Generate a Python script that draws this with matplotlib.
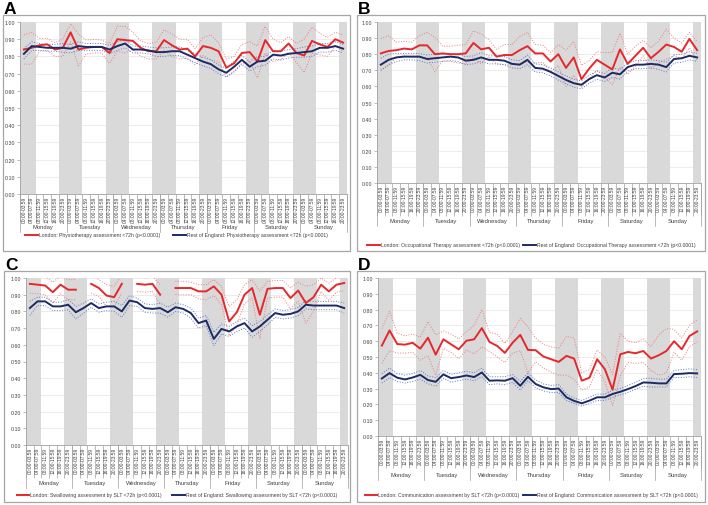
# Stroke therapy assessment <72h by admission time: London vs rest of England

import matplotlib.pyplot as plt
import numpy as np
from matplotlib.patches import Rectangle
from matplotlib.lines import Line2D
import matplotlib.transforms as mtransforms

plt.rcParams['font.family'] = ['Liberation Sans', 'DejaVu Sans']

days = ['Monday', 'Tuesday', 'Wednesday', 'Thursday', 'Friday', 'Saturday', 'Sunday']
slots = ['00:00-03:59', '04:00-07:59', '08:00-11:59', '12:00-15:59', '16:00-19:59', '20:00-23:59']
night_slots = ['20:00-23:59', '00:00-03:59', '04:00-07:59']

# A: physiotherapy
red_A = [0.84, 0.85, 0.865, 0.87, 0.84, 0.85, 0.94, 0.84, 0.85, 0.855, 0.855, 0.82, 0.90, 0.895,
         0.89, 0.85, 0.83, 0.83, 0.895, 0.865, 0.84, 0.845, 0.80, 0.86, 0.85, 0.83, 0.735, 0.76,
         0.82, 0.825, 0.77, 0.895, 0.83, 0.83, 0.875, 0.82, 0.805, 0.89, 0.87, 0.855, 0.90, 0.88]
red_A_hi = [0.925, 0.94, 0.905, 0.905, 0.88, 0.90, 0.99, 0.93, 0.895, 0.90, 0.895, 0.875, 0.975, 0.975,
            0.94, 0.89, 0.875, 0.88, 0.955, 0.93, 0.90, 0.90, 0.845, 0.91, 0.925, 0.88, 0.785, 0.80,
            0.87, 0.885, 0.86, 0.975, 0.90, 0.88, 0.915, 0.875, 0.90, 0.97, 0.935, 0.91, 0.94, 0.925]
red_A_lo = [0.755, 0.755, 0.83, 0.835, 0.80, 0.80, 0.885, 0.745, 0.815, 0.82, 0.82, 0.76, 0.83, 0.82,
            0.84, 0.80, 0.785, 0.785, 0.835, 0.80, 0.785, 0.79, 0.75, 0.805, 0.78, 0.77, 0.68, 0.715,
            0.76, 0.77, 0.675, 0.82, 0.77, 0.78, 0.825, 0.765, 0.705, 0.82, 0.81, 0.80, 0.86, 0.83]
navy_A = [0.815, 0.86, 0.855, 0.85, 0.85, 0.85, 0.845, 0.86, 0.855, 0.855, 0.855, 0.84, 0.86, 0.875,
          0.84, 0.84, 0.835, 0.825, 0.825, 0.83, 0.83, 0.81, 0.79, 0.77, 0.755, 0.725, 0.705, 0.74,
          0.78, 0.74, 0.77, 0.775, 0.81, 0.805, 0.815, 0.82, 0.825, 0.83, 0.85, 0.85, 0.86, 0.845]
navy_A_hi = [0.845, 0.885, 0.875, 0.87, 0.87, 0.875, 0.87, 0.885, 0.875, 0.875, 0.875, 0.865, 0.885, 0.90,
             0.86, 0.86, 0.855, 0.85, 0.85, 0.855, 0.855, 0.835, 0.815, 0.795, 0.78, 0.75, 0.73, 0.77,
             0.805, 0.77, 0.80, 0.80, 0.835, 0.83, 0.84, 0.845, 0.855, 0.86, 0.875, 0.875, 0.885, 0.87]
navy_A_lo = [0.785, 0.835, 0.835, 0.83, 0.83, 0.825, 0.82, 0.835, 0.835, 0.835, 0.835, 0.815, 0.835, 0.85,
             0.82, 0.82, 0.815, 0.80, 0.80, 0.805, 0.805, 0.785, 0.765, 0.745, 0.73, 0.70, 0.68, 0.71,
             0.755, 0.715, 0.74, 0.75, 0.785, 0.78, 0.79, 0.795, 0.795, 0.80, 0.825, 0.825, 0.835, 0.82]

# B: occupational therapy
red_B = [0.805, 0.82, 0.825, 0.835, 0.83, 0.855, 0.855, 0.80, 0.805, 0.80, 0.80, 0.805, 0.87, 0.83,
         0.84, 0.785, 0.795, 0.795, 0.825, 0.85, 0.805, 0.805, 0.755, 0.80, 0.715, 0.78, 0.645, 0.71,
         0.765, 0.735, 0.705, 0.83, 0.74, 0.79, 0.84, 0.775, 0.815, 0.86, 0.845, 0.815, 0.895, 0.825]
red_B_hi = [0.895, 0.915, 0.875, 0.88, 0.875, 0.915, 0.935, 0.905, 0.85, 0.85, 0.855, 0.86, 0.945, 0.925,
            0.89, 0.83, 0.86, 0.86, 0.91, 0.935, 0.86, 0.855, 0.81, 0.86, 0.825, 0.88, 0.73, 0.76,
            0.815, 0.81, 0.81, 0.93, 0.80, 0.85, 0.885, 0.84, 0.88, 0.955, 0.90, 0.87, 0.935, 0.88]
red_B_lo = [0.70, 0.73, 0.78, 0.79, 0.78, 0.78, 0.78, 0.69, 0.76, 0.755, 0.745, 0.74, 0.78, 0.74,
            0.785, 0.74, 0.735, 0.735, 0.74, 0.75, 0.745, 0.75, 0.69, 0.73, 0.60, 0.67, 0.595, 0.65,
            0.70, 0.66, 0.61, 0.72, 0.675, 0.725, 0.79, 0.71, 0.745, 0.77, 0.79, 0.77, 0.84, 0.76]
navy_B = [0.735, 0.765, 0.78, 0.785, 0.785, 0.785, 0.77, 0.775, 0.78, 0.785, 0.78, 0.76, 0.765, 0.78,
          0.765, 0.765, 0.76, 0.74, 0.735, 0.765, 0.715, 0.71, 0.69, 0.665, 0.64, 0.62, 0.61, 0.645,
          0.67, 0.655, 0.685, 0.675, 0.72, 0.735, 0.735, 0.74, 0.735, 0.72, 0.77, 0.775, 0.79, 0.78]
navy_B_hi = [0.775, 0.80, 0.805, 0.805, 0.805, 0.805, 0.795, 0.80, 0.80, 0.805, 0.80, 0.785, 0.79, 0.81,
             0.79, 0.79, 0.785, 0.765, 0.76, 0.795, 0.74, 0.735, 0.715, 0.69, 0.665, 0.645, 0.635, 0.67,
             0.695, 0.68, 0.715, 0.705, 0.745, 0.76, 0.76, 0.765, 0.76, 0.75, 0.795, 0.80, 0.815, 0.805]
navy_B_lo = [0.70, 0.735, 0.755, 0.765, 0.765, 0.76, 0.745, 0.75, 0.755, 0.76, 0.755, 0.735, 0.74, 0.755,
             0.74, 0.74, 0.735, 0.715, 0.71, 0.735, 0.69, 0.685, 0.665, 0.64, 0.615, 0.595, 0.585, 0.62,
             0.645, 0.63, 0.655, 0.645, 0.695, 0.71, 0.71, 0.715, 0.705, 0.69, 0.745, 0.75, 0.765, 0.755]

# C: swallowing (None = no value)
red_C = [0.965, 0.96, 0.955, 0.915, 0.96, 0.93, 0.93, None, 0.965, 0.94, 0.895, 0.885, 0.965, None,
         0.965, 0.96, 0.965, 0.90, None, 0.94, 0.94, 0.94, 0.92, 0.92, 0.95, 0.90, 0.74, 0.795,
         0.90, 0.94, 0.78, 0.935, 0.94, 0.94, 0.88, 0.925, 0.85, 0.885, 0.96, 0.92, 0.96, 0.97]
red_C_hi = [1.02, 1.01, 1.01, 0.975, 1.01, 0.99, 0.99, None, 1.02, 0.99, 0.96, 0.95, 1.02, None,
            1.01, 1.0, 1.01, 0.96, None, 0.98, 0.98, 0.975, 0.96, 0.96, 0.99, 0.95, 0.83, 0.87,
            0.96, 0.99, 0.92, 0.98, 0.985, 0.985, 0.94, 0.975, 0.95, 0.96, 1.0, 0.97, 1.0, 1.01]
red_C_lo = [0.91, 0.905, 0.90, 0.85, 0.905, 0.87, 0.87, None, 0.91, 0.89, 0.83, 0.83, 0.91, None,
            0.92, 0.915, 0.92, 0.84, None, 0.90, 0.90, 0.90, 0.875, 0.87, 0.895, 0.84, 0.655, 0.72,
            0.845, 0.88, 0.635, 0.88, 0.885, 0.885, 0.815, 0.86, 0.73, 0.80, 0.92, 0.865, 0.915, 0.925]
navy_C = [0.82, 0.86, 0.86, 0.83, 0.83, 0.84, 0.795, 0.82, 0.85, 0.82, 0.83, 0.83, 0.80, 0.865,
          0.855, 0.82, 0.815, 0.82, 0.795, 0.825, 0.815, 0.79, 0.73, 0.745, 0.635, 0.695, 0.68, 0.71,
          0.73, 0.68, 0.71, 0.75, 0.79, 0.78, 0.785, 0.80, 0.84, 0.835, 0.835, 0.835, 0.835, 0.82]
navy_C_hi = [0.86, 0.885, 0.885, 0.855, 0.855, 0.87, 0.83, 0.85, 0.875, 0.845, 0.855, 0.86, 0.835, 0.895,
             0.88, 0.845, 0.84, 0.85, 0.825, 0.85, 0.84, 0.82, 0.76, 0.775, 0.675, 0.725, 0.71, 0.74,
             0.76, 0.715, 0.74, 0.78, 0.815, 0.805, 0.81, 0.825, 0.865, 0.86, 0.86, 0.86, 0.86, 0.85]
navy_C_lo = [0.775, 0.835, 0.835, 0.805, 0.805, 0.81, 0.755, 0.79, 0.825, 0.795, 0.805, 0.80, 0.765, 0.835,
             0.83, 0.795, 0.79, 0.79, 0.765, 0.80, 0.79, 0.76, 0.70, 0.715, 0.595, 0.665, 0.65, 0.68,
             0.70, 0.645, 0.68, 0.72, 0.765, 0.755, 0.76, 0.775, 0.815, 0.81, 0.81, 0.81, 0.81, 0.79]

# D: communication
red_D = [0.572, 0.668, 0.582, 0.578, 0.59, 0.553, 0.622, 0.515, 0.612, 0.58, 0.549, 0.603, 0.612, 0.683,
         0.595, 0.57, 0.526, 0.59, 0.64, 0.545, 0.543, 0.503, 0.486, 0.469, 0.507, 0.49, 0.35, 0.369,
         0.486, 0.423, 0.293, 0.517, 0.532, 0.524, 0.538, 0.49, 0.511, 0.538, 0.60, 0.549, 0.633, 0.662]
red_D_hi = [0.68, 0.79, 0.65, 0.635, 0.645, 0.625, 0.725, 0.64, 0.665, 0.645, 0.615, 0.66, 0.70, 0.80,
            0.655, 0.645, 0.585, 0.66, 0.745, 0.69, 0.62, 0.58, 0.565, 0.555, 0.63, 0.62, 0.40, 0.42,
            0.545, 0.50, 0.39, 0.65, 0.60, 0.59, 0.615, 0.565, 0.64, 0.68, 0.675, 0.62, 0.70, 0.735]
red_D_lo = [0.46, 0.54, 0.525, 0.525, 0.53, 0.48, 0.51, 0.385, 0.555, 0.53, 0.49, 0.545, 0.52, 0.565,
            0.535, 0.50, 0.465, 0.525, 0.54, 0.40, 0.47, 0.43, 0.405, 0.385, 0.385, 0.36, 0.29, 0.31,
            0.42, 0.345, 0.19, 0.38, 0.465, 0.46, 0.465, 0.415, 0.385, 0.40, 0.53, 0.48, 0.565, 0.595]
navy_D = [0.364, 0.398, 0.369, 0.358, 0.37, 0.387, 0.354, 0.343, 0.39, 0.366, 0.373, 0.383, 0.373, 0.402,
          0.35, 0.352, 0.35, 0.366, 0.318, 0.375, 0.329, 0.308, 0.297, 0.30, 0.245, 0.222, 0.207, 0.224,
          0.245, 0.245, 0.266, 0.28, 0.297, 0.316, 0.339, 0.337, 0.333, 0.333, 0.392, 0.394, 0.398, 0.396]
navy_D_hi = [0.395, 0.43, 0.395, 0.385, 0.395, 0.415, 0.38, 0.37, 0.415, 0.39, 0.40, 0.41, 0.40, 0.43,
             0.375, 0.375, 0.375, 0.39, 0.345, 0.40, 0.355, 0.33, 0.32, 0.325, 0.265, 0.24, 0.225, 0.245,
             0.265, 0.265, 0.29, 0.30, 0.32, 0.34, 0.365, 0.365, 0.36, 0.36, 0.415, 0.42, 0.425, 0.42]
navy_D_lo = [0.335, 0.37, 0.345, 0.335, 0.345, 0.36, 0.33, 0.315, 0.365, 0.34, 0.35, 0.36, 0.35, 0.375,
             0.325, 0.33, 0.325, 0.34, 0.29, 0.35, 0.305, 0.285, 0.275, 0.275, 0.225, 0.205, 0.19, 0.205,
             0.225, 0.225, 0.245, 0.26, 0.275, 0.295, 0.315, 0.31, 0.31, 0.31, 0.37, 0.37, 0.375, 0.37]

RED = '#e8272b'
NAVY = '#1c2a66'
W, H = 708, 506

fig = plt.figure(figsize=(W / 100, H / 100), dpi=100)


def arr(v):
    return np.array([np.nan if a is None else a for a in v], dtype=float)


def draw_panel(letter, frame, plot, lab_bot, day_y, sep_bot, leg_y, colsp, red, navy, names):
    fx0, fy0, fx1, fy1 = frame
    fig.patches.append(Rectangle((fx0 / W, 1 - fy1 / H), (fx1 - fx0) / W, (fy1 - fy0) / H,
                                 transform=fig.transFigure, fill=False, ec='#a6a6a6', lw=0.9))
    fig.text((fx0 + 1) / W, 1 - (fy0 + 1) / H, letter, fontsize=12.5, fontweight='bold',
             ha='left', va='bottom')

    px0, py0, px1, py1 = plot
    ax = fig.add_axes([px0 / W, 1 - py1 / H, (px1 - px0) / W, (py1 - py0) / H])
    ph = py1 - py0

    labels = [s for d in days for s in slots]
    x = np.arange(len(labels))
    shade = [1.0 if s in night_slots else 0.0 for s in labels]
    ax.bar(x, shade, width=1.0, color='#d9d9d9', zorder=1)

    (r, r_hi, r_lo), (n, n_hi, n_lo) = red, navy
    ax.plot(x, arr(r_hi), ls=':', color='#ee7d7d', lw=0.7, zorder=2)
    ax.plot(x, arr(r_lo), ls=':', color='#ee7d7d', lw=0.7, zorder=2)
    ax.plot(x, arr(n_hi), ls=':', color='#5d79bd', lw=0.7, zorder=2)
    ax.plot(x, arr(n_lo), ls=':', color='#5d79bd', lw=0.7, zorder=2)
    ax.plot(x, arr(r), color=RED, lw=1.4, zorder=3)
    ax.plot(x, arr(n), color=NAVY, lw=1.4, zorder=3)

    ax.set_xlim(-0.5, len(labels) - 0.5)
    ax.set_ylim(0, 1)
    yt = np.arange(0, 1.01, 0.1)
    ax.set_yticks(yt)
    ax.set_yticklabels(['%.2f' % v for v in yt], fontsize=3.8, color='#404040')
    ax.tick_params(axis='y', length=2, width=0.5, color='#a0a0a0', pad=1.5)
    ax.grid(axis='y', color='#e4e4e4', lw=0.5)
    ax.set_axisbelow(True)

    ax.set_xticks(np.arange(-0.5, len(labels), 1.0))
    ax.set_xticklabels([])
    ax.tick_params(axis='x', which='major', length=(lab_bot - py1) * 0.72, width=0.5,
                   color='#a0a0a0')
    ax.set_xticks(x, minor=True)
    ax.set_xticklabels(labels, minor=True, rotation=90, fontsize=3.5, color='#404040')
    ax.tick_params(axis='x', which='minor', length=0, pad=1.2)

    trans = mtransforms.blended_transform_factory(ax.transData, ax.transAxes)
    for k, d in enumerate(days):
        ax.text(6 * k + 2.5, -(day_y - py1) / ph, d, transform=trans, ha='center', va='center',
                fontsize=4.2, color='#404040')
    for k in range(len(days) + 1):
        ax.plot([6 * k - 0.5] * 2, [0, -(sep_bot - py1) / ph], transform=trans, clip_on=False,
                color='#a0a0a0', lw=0.5)

    for s in ['top', 'right']:
        ax.spines[s].set_visible(False)
    for s in ['left', 'bottom']:
        ax.spines[s].set_color('#a0a0a0')
        ax.spines[s].set_linewidth(0.6)

    handles = [Line2D([], [], color=RED, lw=1.4), Line2D([], [], color=NAVY, lw=1.4)]
    fig.legend(handles, names, loc='center', bbox_to_anchor=((fx0 + fx1) / 2 / W, 1 - leg_y / H),
               ncol=2, frameon=False, fontsize=3.7, handlelength=2.5, handletextpad=0.2,
               columnspacing=colsp, labelcolor='#404040')


draw_panel('A', (3, 16, 350, 252), (20, 23, 347, 195), 223, 228, 233, 236, 2.4,
           (red_A, red_A_hi, red_A_lo), (navy_A, navy_A_hi, navy_A_lo),
           ['London: Physiotherapy assessment <72h (p<0.0001)',
            'Rest of England: Physiotherapy assessment <72h (p<0.0001)'])
draw_panel('B', (357, 16, 705, 252), (377, 23, 701, 184), 217, 222, 227, 246, 0.6,
           (red_B, red_B_hi, red_B_lo), (navy_B, navy_B_hi, navy_B_lo),
           ['London: Occupational Therapy assessment <72h (p<0.0001)',
            'Rest of England: Occupational Therapy assessment <72h (p<0.0001)'])
draw_panel('C', (4, 272, 350, 503), (26, 279, 348, 446), 479, 484, 489, 496, 2.0,
           (red_C, red_C_hi, red_C_lo), (navy_C, navy_C_hi, navy_C_lo),
           ['London: Swallowing assessment by SLT <72h (p<0.0001)',
            'Rest of England: Swallowing assessment by SLT <72h (p<0.0001)'])
draw_panel('D', (357, 272, 705, 503), (378, 279, 701, 437), 469, 476, 481, 496, 0.6,
           (red_D, red_D_hi, red_D_lo), (navy_D, navy_D_hi, navy_D_lo),
           ['London: Communication assessment by SLT <72h (p<0.0001)',
            'Rest of England: Communication assessment by SLT <72h (p<0.0001)'])

fig.savefig('out.png', dpi=100)
